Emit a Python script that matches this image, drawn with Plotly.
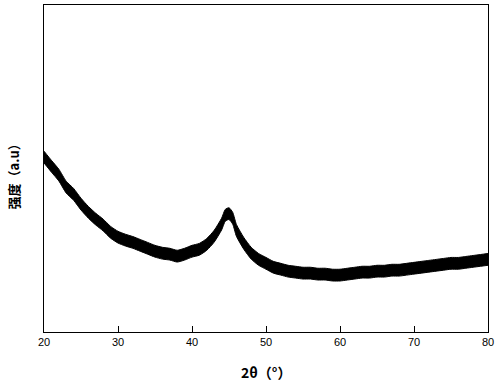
import plotly.graph_objects as go

# 2θ positions (degrees)
two_theta = [20, 21, 22, 23, 24, 25, 26, 27, 28, 29, 30, 31, 32, 33, 34, 35, 36, 37, 38, 39,
             40, 41, 42, 43, 44, 44.5, 45, 45.5, 46, 47, 48, 49, 50, 51, 52, 53, 54, 55, 56, 57,
             58, 59, 60, 61, 62, 63, 64, 65, 66, 67, 68, 69, 70, 71, 72, 73, 74, 75, 76, 77,
             78, 79, 80]
# intensity (a.u.), centre of the noisy trace
intensity = [535, 507, 480, 443, 421, 391, 366, 345, 327, 305, 290, 281, 274, 265, 256, 247, 241, 238, 232, 238,
             247, 253, 268, 293, 330, 357, 362, 348, 311, 271, 241, 222, 210, 198, 192, 186, 183, 180, 180, 177,
             177, 174, 174, 177, 180, 183, 183, 186, 186, 189, 189, 192, 195, 198, 201, 204, 207, 210, 210, 213,
             216, 219, 222]

x_ticks = [20, 30, 40, 50, 60, 70, 80]

BAND = 18  # half thickness of the noise band (style)
upper = [v + BAND for v in intensity]
lower = [v - BAND for v in intensity]

fig = go.Figure()
fig.add_trace(go.Scatter(x=two_theta, y=lower, mode="lines",
                         line=dict(color="black", width=1, shape="spline", smoothing=0.6),
                         showlegend=False, hoverinfo="skip"))
fig.add_trace(go.Scatter(x=two_theta, y=upper, mode="lines", fill="tonexty",
                         fillcolor="black",
                         line=dict(color="black", width=1, shape="spline", smoothing=0.6),
                         showlegend=False, hoverinfo="skip"))

fig.update_layout(
    width=500, height=382,
    margin=dict(l=44, r=12, t=5, b=50, autoexpand=False),
    paper_bgcolor="white", plot_bgcolor="white",
    font=dict(family="Liberation Sans, Arial", color="black", size=11),
    xaxis=dict(range=[20, 80], tickvals=x_ticks, ticktext=[str(t) for t in x_ticks],
               ticks="inside", ticklen=6, tickcolor="black", tickwidth=1,
               showline=True, linecolor="black", linewidth=1, mirror=True,
               showgrid=False, zeroline=False, automargin=False,
               tickfont=dict(size=11, family="Liberation Sans, Arial", color="black")),
    yaxis=dict(range=[0, 1000], showticklabels=False, ticks="",
               showline=True, linecolor="black", linewidth=1, mirror=True,
               showgrid=False, zeroline=False, automargin=False),
    annotations=[
        dict(text="<b>2θ（°）</b>", xref="paper", yref="paper", x=0.5, y=0,
             yshift=-40, xanchor="center", yanchor="middle", showarrow=False,
             font=dict(size=14, family="Noto Sans CJK SC", color="black")),
        dict(text="<b>强度（a.u）</b>", xref="paper", yref="paper", x=0, y=0.5,
             xshift=-31, xanchor="center", yanchor="middle", showarrow=False, textangle=-90,
             yshift=-5,
             font=dict(size=13, family="Noto Sans CJK SC", color="black")),
    ],
)

fig.write_html("out.html", config={"displayModeBar": False},
               post_script="document.body.style.margin='0';document.body.style.overflow='hidden';")
